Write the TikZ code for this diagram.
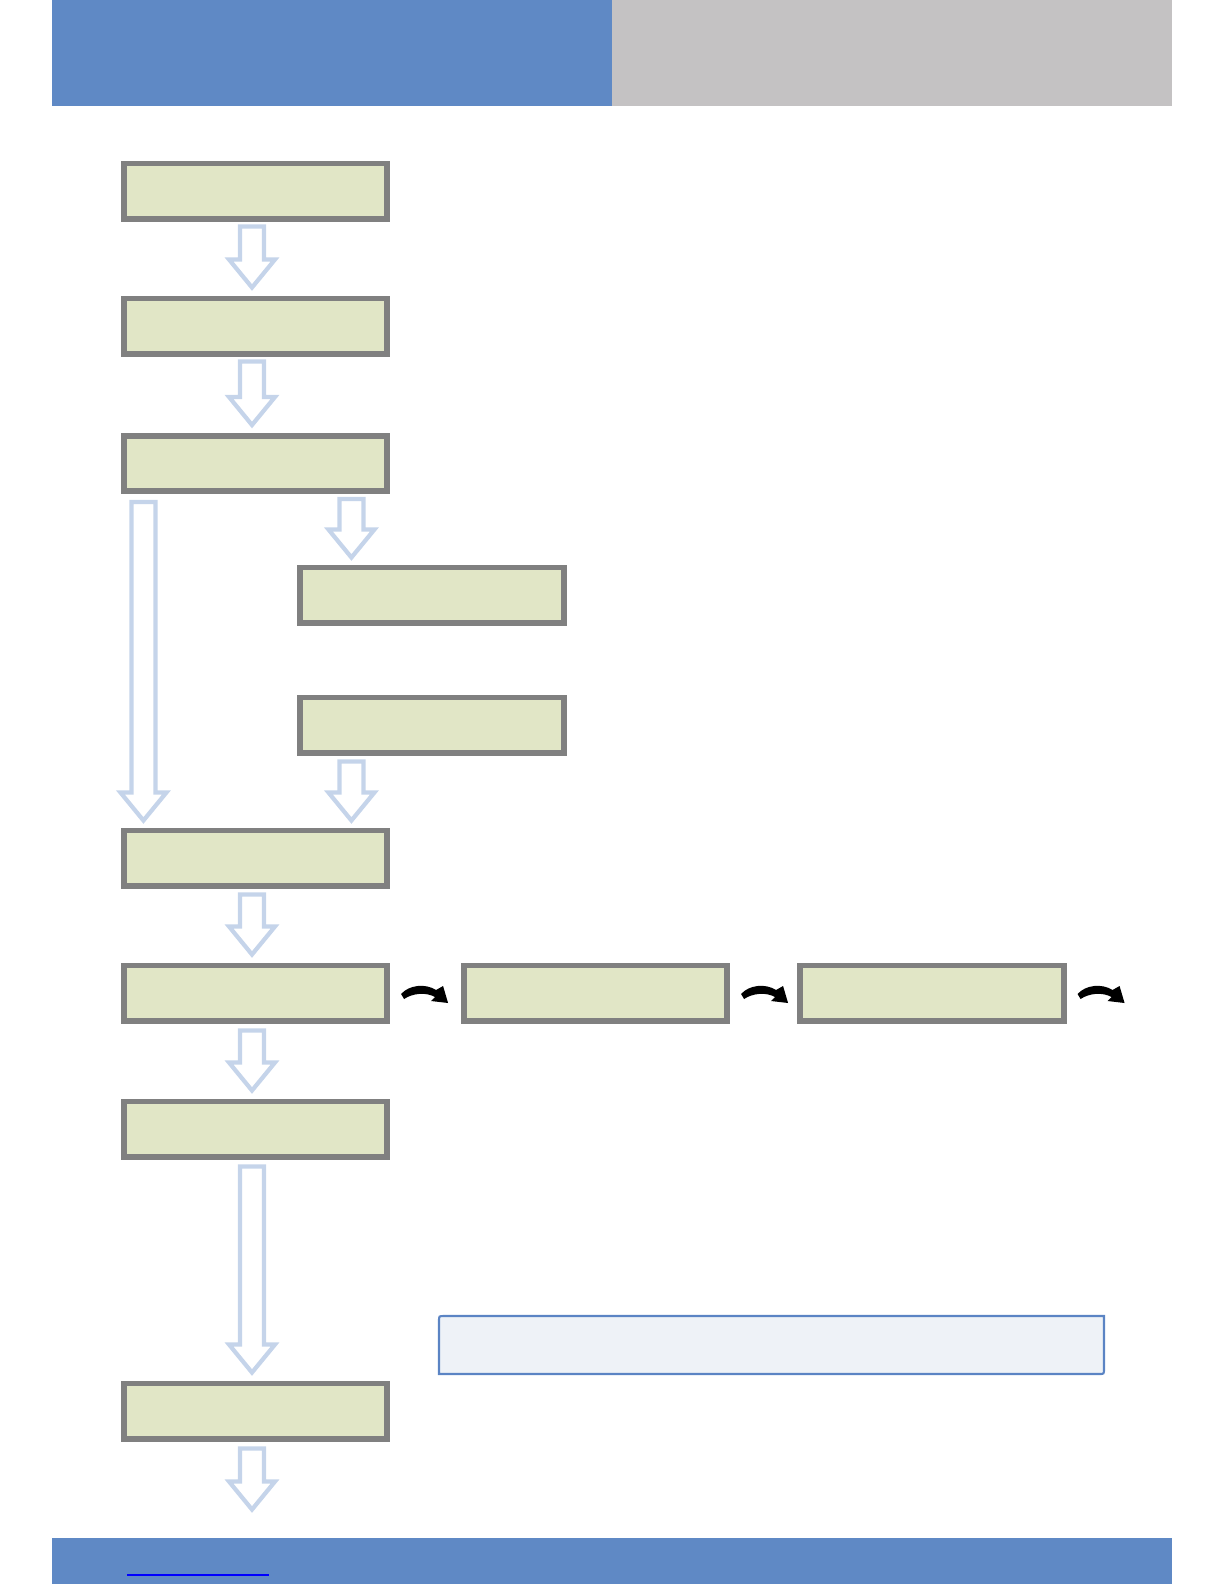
\documentclass[tikz,border=0pt]{standalone}
\usetikzlibrary{calc}
\definecolor{hdrblue}{HTML}{5F89C5}
\definecolor{hdrgray}{HTML}{C4C2C3}
\definecolor{boxfill}{HTML}{E1E6C6}
\definecolor{boxline}{HTML}{808080}
\definecolor{arrline}{HTML}{C5D4EA}
\definecolor{noteline}{HTML}{5B84C4}
\definecolor{notefill}{HTML}{EEF2F7}
\newcommand\blockarrow[2]{%
  \draw[blockarr] let \p1=(#1), \p2=(#2) in
    (\x1-3.41pt,\y1) -- (\x1-3.41pt,\y2+7.97pt) -- (\x1-6.54pt,\y2+7.97pt) --
    (\x2,\y2) -- (\x1+6.54pt,\y2+7.97pt) -- (\x1+3.41pt,\y2+7.97pt) --
    (\x1+3.41pt,\y1) -- cycle;}
\newcommand\curvearrow[1]{%
  \fill[black, shift={(#1)}] (0,10) .. controls (8,1) and (24,-1) .. (35,6) -- (42,2) -- (47,19) -- (30,17) -- (34,13) .. controls (25,8) and (12,9) .. (3,15) -- cycle;}
\begin{document}
\begin{tikzpicture}[x=0.01cm, y=-0.01cm,
  stepbox/.style={draw=boxline, fill=boxfill, line width=1.7pt, minimum width=2.63cm, minimum height=0.55cm, inner sep=0pt},
  blockarr/.style={draw=arrline, fill=white, line width=1.2pt, line join=miter}]
\useasboundingbox (0,0) rectangle (1224,1584);
% header and footer
\fill[hdrblue] (52,0) rectangle (612,106);
\fill[hdrgray] (612,0) rectangle (1172,106);
\fill[hdrblue] (52,1538) rectangle (1172,1584);
\draw[blue, line width=0.4pt] (127,1575) -- (269,1575);
% boxes
\node[stepbox] (b1) at (255.5,191) {};
\node[stepbox] (b2) at (255.5,326) {};
\node[stepbox] (b3) at (255.5,463.5) {};
\node[stepbox] (b4) at (432,595) {};
\node[stepbox] (b4b) at (432,725) {};
\node[stepbox] (b5) at (255.5,858) {};
\node[stepbox] (b6) at (255.5,993) {};
\node[stepbox] (b6b) at (595.5,993) {};
\node[stepbox] (b6c) at (932,993) {};
\node[stepbox] (b7) at (255.5,1129) {};
\node[stepbox] (b8) at (255.5,1411) {};
% note box
\filldraw[draw=noteline, fill=notefill, line width=0.6pt]
  (439,1374) -- (439,1321) .. controls (439,1316) .. (444,1316) -- (1104,1316)
  -- (1104,1369) .. controls (1104,1374) .. (1099,1374) -- cycle;
% coordinates for arrows
\coordinate (s12) at ($(b1.south)+(-3.5,5)$);
\coordinate (t12) at ($(b2.north)+(-3.5,-8)$);
\coordinate (s23) at ($(b2.south)+(-3.5,5)$);
\coordinate (t23) at ($(b3.north)+(-3.5,-8)$);
\coordinate (t34) at ($(b4.north west)+(54,-7)$);
\coordinate (s34) at ($(b3.south -| t34)+(0,5)$);
\coordinate (sl) at ($(b3.south west)+(22.5,8)$);
\coordinate (tl) at ($(b5.north -| sl)+(0,-7)$);
\coordinate (s45) at ($(b4b.south west)+(54,6)$);
\coordinate (t45) at ($(b5.north -| s45)+(0,-7)$);
\coordinate (s56) at ($(b5.south)+(-3.5,6)$);
\coordinate (t56) at ($(b6.north)+(-3.5,-8)$);
\coordinate (s67) at ($(b6.south)+(-3.5,7)$);
\coordinate (t67) at ($(b7.north)+(-3.5,-8)$);
\coordinate (s78) at ($(b7.south)+(-3.5,7)$);
\coordinate (t78) at ($(b8.north)+(-3.5,-8)$);
\coordinate (s89) at ($(b8.south)+(-3.5,7)$);
\coordinate (t89) at ($(s89)+(0,61)$);
\blockarrow{s12}{t12}
\blockarrow{s23}{t23}
\blockarrow{s34}{t34}
\blockarrow{sl}{tl}
\blockarrow{s45}{t45}
\blockarrow{s56}{t56}
\blockarrow{s67}{t67}
\blockarrow{s78}{t78}
\blockarrow{s89}{t89}
% curved arrows
\curvearrow{$(b6.east)+(11,-9)$}
\curvearrow{$(b6b.east)+(11,-9)$}
\curvearrow{$(b6c.east)+(11,-9)$}
\end{tikzpicture}
\end{document}
